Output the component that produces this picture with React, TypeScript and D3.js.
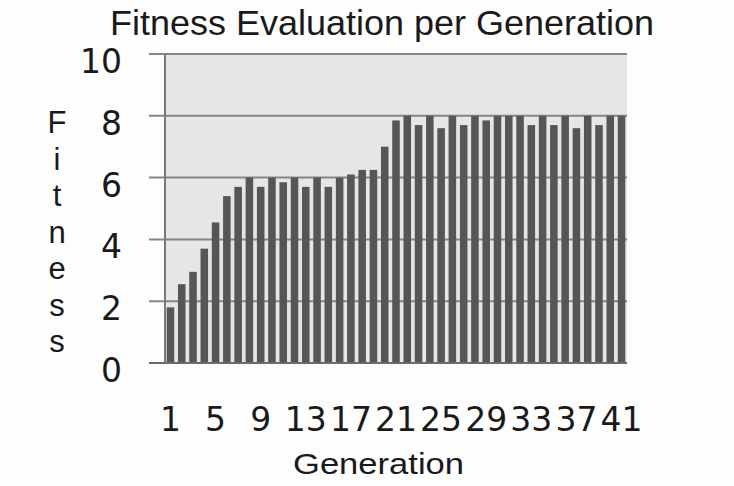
import * as d3 from "d3";
import { useEffect, useRef } from "react";

// generation numbers 1..41
const generations: string[] = [
  "1", "2", "3", "4", "5", "6", "7", "8", "9", "10",
  "11", "12", "13", "14", "15", "16", "17", "18", "19", "20",
  "21", "22", "23", "24", "25", "26", "27", "28", "29", "30",
  "31", "32", "33", "34", "35", "36", "37", "38", "39", "40", "41",
];

// best fitness per generation
const fitness: number[] = [
  1.8, 2.55, 2.95, 3.7, 4.55, 5.4, 5.7, 6.0, 5.7, 6.0,
  5.85, 6.0, 5.7, 6.0, 5.7, 6.0, 6.1, 6.25, 6.25, 7.0,
  7.85, 8.0, 7.7, 8.0, 7.6, 8.0, 7.7, 8.0, 7.85, 8.0,
  8.0, 8.0, 7.7, 8.0, 7.7, 8.0, 7.6, 8.0, 7.7, 8.0, 8.0,
];

const yTicks: number[] = [0, 2, 4, 6, 8, 10];
const xTickLabels: string[] = ["1", "5", "9", "13", "17", "21", "25", "29", "33", "37", "41"];
const yTitleLetters: string[] = ["F", "i", "t", "n", "e", "s", "s"];

const W = 734;
const H = 486;

export default function App() {
  const svgRef = useRef<SVGSVGElement>(null);

  useEffect(() => {
    const svg = d3.select(svgRef.current);
    svg.selectAll("*").remove();
    svg.attr("width", W).attr("height", H);

    const left = 165;
    const right = 627;
    const top = 54;
    const bottom = 363;

    const x = d3
      .scaleBand<string>()
      .domain(generations)
      .range([left, right])
      .paddingInner(0.33)
      .paddingOuter(0.15);
    const y = d3.scaleLinear().domain([0, 10]).range([bottom, top]);

    svg.append("rect").attr("width", W).attr("height", H).attr("fill", "#fdfdfd");

    // plot area
    svg
      .append("rect")
      .attr("x", left)
      .attr("y", top)
      .attr("width", right - left)
      .attr("height", bottom - top)
      .attr("fill", "#e6e6e6");

    // gridlines + tick marks
    svg
      .append("g")
      .selectAll("line")
      .data(yTicks)
      .join("line")
      .attr("x1", left - 16)
      .attr("x2", right)
      .attr("y1", (d) => y(d))
      .attr("y2", (d) => y(d))
      .attr("stroke", "#858585")
      .attr("stroke-width", 2);

    // bars
    svg
      .append("g")
      .selectAll("rect")
      .data(fitness)
      .join("rect")
      .attr("x", (_, i) => x(generations[i]) ?? 0)
      .attr("y", (d) => y(d))
      .attr("width", x.bandwidth())
      .attr("height", (d) => bottom - y(d))
      .attr("fill", "#565656");

    // axis lines
    svg
      .append("line")
      .attr("x1", left)
      .attr("x2", left)
      .attr("y1", top)
      .attr("y2", bottom)
      .attr("stroke", "#7a7a7a")
      .attr("stroke-width", 2);
    svg
      .append("line")
      .attr("x1", left - 16)
      .attr("x2", right)
      .attr("y1", bottom)
      .attr("y2", bottom)
      .attr("stroke", "#6a6a6a")
      .attr("stroke-width", 2);

    // y tick labels
    svg
      .append("g")
      .selectAll("text")
      .data(yTicks)
      .join("text")
      .attr("x", 122)
      .attr("y", (d) => y(d) + 19)
      .attr("text-anchor", "end")
      .attr("font-family", "DejaVu Sans")
      .attr("font-size", 33)
      .attr("fill", "#1a1a1a")
      .text((d) => String(d));

    // x tick labels
    svg
      .append("g")
      .selectAll("text")
      .data(xTickLabels)
      .join("text")
      .attr("x", (d) => (x(d) ?? 0) + x.bandwidth() / 2)
      .attr("y", 431)
      .attr("text-anchor", "middle")
      .attr("font-family", "DejaVu Sans")
      .attr("font-size", 33)
      .attr("fill", "#1a1a1a")
      .text((d) => d);

    // title
    svg
      .append("text")
      .attr("x", 110)
      .attr("y", 35)
      .attr("font-family", "Liberation Sans")
      .attr("font-size", 35)
      .attr("textLength", 544)
      .attr("lengthAdjust", "spacingAndGlyphs")
      .attr("fill", "#1a1a1a")
      .text("Fitness Evaluation per Generation");

    // x title
    svg
      .append("text")
      .attr("x", 293)
      .attr("y", 474)
      .attr("font-family", "Liberation Sans")
      .attr("font-size", 30)
      .attr("textLength", 171)
      .attr("lengthAdjust", "spacingAndGlyphs")
      .attr("fill", "#1a1a1a")
      .text("Generation");

    // y title, stacked letters
    svg
      .append("g")
      .selectAll("text")
      .data(yTitleLetters)
      .join("text")
      .attr("x", 57)
      .attr("y", (_, i) => 133 + i * 36.5)
      .attr("text-anchor", "middle")
      .attr("font-family", "Liberation Sans")
      .attr("font-size", 31)
      .attr("fill", "#1a1a1a")
      .text((d) => d);
  }, []);

  return (
    <svg
      ref={svgRef}
      style={{ position: "absolute", left: 0, top: 0, display: "block" }}
    />
  );
}
